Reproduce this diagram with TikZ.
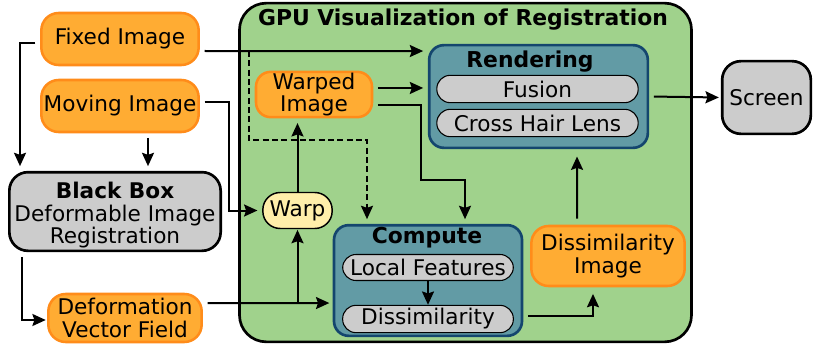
\documentclass[tikz,border=0pt]{standalone}
\usepackage{fontspec}
\setmainfont{DejaVu Sans}
\usepackage{tikz}
\usetikzlibrary{arrows.meta,positioning,calc}
\definecolor{imgorange}{RGB}{255,172,51}
\definecolor{imgorangeline}{RGB}{255,140,26}
\definecolor{gpugreen}{RGB}{160,210,140}
\definecolor{stageteal}{RGB}{98,155,165}
\definecolor{stageline}{RGB}{20,70,110}
\definecolor{boxgray}{RGB}{204,204,204}
\definecolor{warpyellow}{RGB}{255,238,170}

\tikzset{
  every node/.style={font=\fontsize{16.2}{17}\selectfont,align=center,inner sep=0pt},
  titletext/.style={font=\fontsize{16.4}{17}\selectfont\bfseries},
  imgbox/.style={draw=imgorangeline,fill=imgorange,line width=1.9pt,rounded corners=13pt},
  blackbox/.style={draw=black,fill=boxgray,line width=2pt,rounded corners=14pt},
  stagebox/.style={draw=stageline,fill=stageteal,line width=2pt,rounded corners=11pt},
  pill/.style={draw=black,fill=boxgray,line width=0.8pt,rounded corners=10pt},
  warpbox/.style={draw=black,fill=warpyellow,line width=1.1pt,rounded corners=13pt},
  conn/.style={-{Stealth[length=10pt,width=9pt,inset=1.5pt]},line width=1.5pt,
    shorten >=3.5pt,shorten <=3.5pt},
}

\begin{document}
\begin{tikzpicture}[x=0.75pt,y=-0.75pt]
  \useasboundingbox (0,0) rectangle (814,346);

  % gpu part
  \node[draw=black,fill=gpugreen,line width=2pt,rounded corners=20pt,
        minimum width=339pt,minimum height=254pt] (gpu) at (465.5,172.5) {};
  \node[titletext] (gputitle) at (463,20) {GPU Visualization of Registration};

  % inputs
  \node[imgbox,minimum width=118pt,minimum height=39pt] (fixed) at (120,39) {Fixed Image};
  \node[imgbox,minimum width=118pt,minimum height=39pt] (moving) at (120,106) {Moving Image};
  \node[blackbox,minimum width=158.5pt,minimum height=59pt] (bbox) at (115,211.5)
    {\rule{0pt}{18pt}\textbf{Black Box}\\Deformable Image\\Registration};
  \node[imgbox,minimum width=115pt,minimum height=36pt] (dvf) at (125,318)
    {Deformation\\Vector Field};

  % warp
  \node[warpbox,minimum width=52pt,minimum height=27pt] (warp) at (297.5,210.5) {Warp};
  \node[imgbox,minimum width=87pt,minimum height=34pt,rounded corners=11pt] (warped)
    at (314,94.5) {Warped\\Image};

  % rendering
  \node[stagebox,minimum width=164pt,minimum height=77pt] (render) at (538.5,96.5) {};
  \node[titletext] (rendertitle) at (530,62) {Rendering};
  \node[pill,minimum width=151pt,minimum height=20.5pt] (fusion) at (537.5,89) {Fusion};
  \node[pill,minimum width=151pt,minimum height=20.5pt] (lens) at (537.5,123) {Cross Hair Lens};
  \node[blackbox,minimum width=66.5pt,minimum height=54.5pt] (screen) at (766.5,97.5) {Screen};

  % compute
  \node[stagebox,minimum width=141pt,minimum height=83pt] (compute) at (428,280.5) {};
  \node[titletext] (computetitle) at (427,238) {Compute};
  \node[pill,minimum width=128pt,minimum height=19.5pt] (localfeat) at (428,267.5) {Local Features};
  \node[pill,minimum width=128pt,minimum height=20.5pt] (dissim) at (428,319) {Dissimilarity};
  \node[imgbox,minimum width=115pt,minimum height=45pt] (dissimimg) at (608,256)
    {Dissimilarity\\Image};

  % connectors
  \coordinate (dvfout) at ([yshift=11.25pt]dvf.east);
  \coordinate (fixtap) at (249,51);
  \draw[conn] ([yshift=-3pt]fixed.west) -| ([xshift=9pt]bbox.north west);
  \draw[conn] ([xshift=21pt]moving.south) -- ([xshift=24.75pt]bbox.north);
  \draw[conn,shorten >=1pt] ([xshift=10.5pt]bbox.south west) |- ([yshift=-1.5pt]dvf.west);
  \draw[conn,shorten >=2.5pt] (dvfout) -- ([yshift=-16.9pt]compute.west);
  \draw[conn,shorten <=0pt,shorten >=0.5pt] (dvfout -| warp.south) -- (warp.south);
  \draw[conn] ([yshift=3pt]moving.east) -- ++(29,0) |- (warp.west);
  \draw[conn,shorten <=0pt] (warp.north) -- (warp.north |- warped.south);
  \draw[conn] ([yshift=-9pt]fixed.east) -- ([yshift=34.1pt]render.west);
  \draw[conn,dashed,dash pattern=on 4.5pt off 2.5pt,shorten <=0pt] (fixtap) -- ++(0,89)
    -| ([xshift=-45.75pt]compute.north);
  \draw[conn] ([yshift=4.9pt]warped.east) -- ([yshift=6.4pt]render.west);
  \draw[conn] ([yshift=-7.9pt]warped.east) -- ++(48,0) -- ++(0,75)
    -| ([xshift=27.75pt]compute.north);
  \draw[conn,shorten <=0pt,shorten >=0pt] (localfeat.south) -- (dissim.north);
  \draw[conn,shorten >=5pt] ([yshift=-26.6pt]compute.east) -| ([xshift=-11.25pt]dissimimg.south);
  \draw[conn,shorten <=4.5pt,shorten >=5.5pt] ([xshift=-23.25pt]dissimimg.north)
    -- ([xshift=28.9pt]render.south);
  \draw[conn,shorten >=1.5pt] (render.east) -- (screen.west);
\end{tikzpicture}
\end{document}
